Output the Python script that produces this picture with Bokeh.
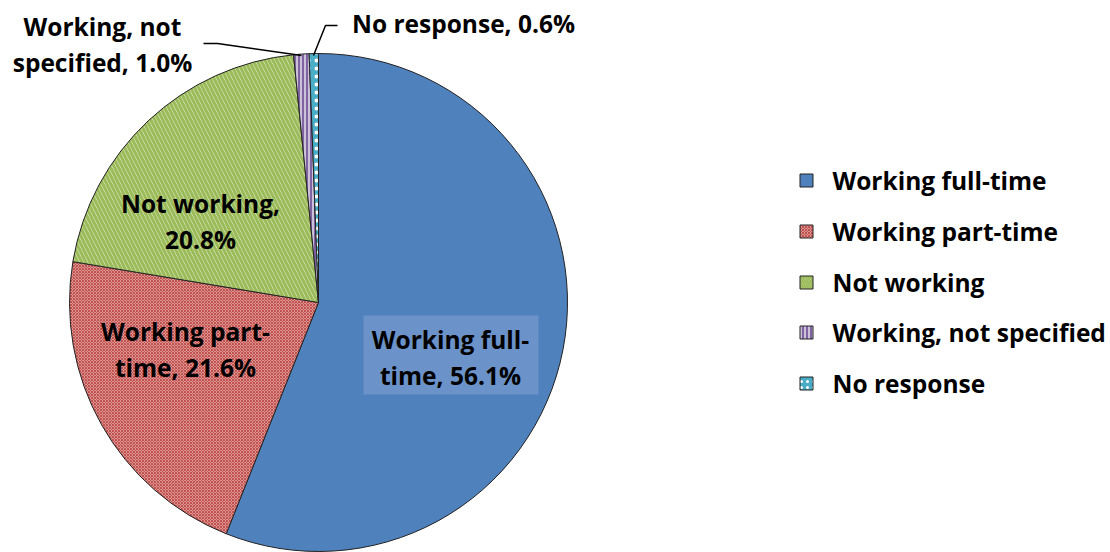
from bokeh.plotting import figure
from bokeh.models import Range1d
from bokeh.embed import file_html
from bokeh.resources import INLINE
from bokeh.core.properties import value
import math

categories = ["Working full-time", "Working part-time", "Not working",
              "Working, not specified", "No response"]
shares = [56.1, 21.6, 20.8, 1.0, 0.6]
slice_labels = ["Working full-\ntime, 56.1%", "Working part-\ntime, 21.6%",
                "Not working,\n20.8%", "Working, not\nspecified, 1.0%",
                "No response, 0.6%"]

fills = ["#4F81BD", "#E9B3B2", "#D7E4BD", "#CCC1DA", "#4BACC6"]
hatch_colors = ["#4F81BD", "#C0504D", "#9BBB59", "#8064A2", "#FFFFFF"]
hatches = [" ", "diagonal_cross", "left_diagonal_line", "vertical_line", "dot"]
hatch_scales = [4, 3, 8, 4, 8]
hatch_weights = [1, 1.2, 3, 2, 2.5]

W, H = 1110, 552
def sx(x): return x
def sy(y): return H - y

p = figure(width=W, height=H, output_backend="svg", toolbar_location=None,
           x_range=Range1d(0, W), y_range=Range1d(0, H), min_border=0)
p.axis.visible = False
p.grid.visible = False
p.outline_line_color = None
p.background_fill_color = "white"

total = sum(shares)
cx, cy, r = sx(318), sy(302), 249
cum = 0.0
starts, ends = [], []
for v in shares:
    starts.append(math.pi / 2 - 2 * math.pi * cum / total)
    cum += v
    ends.append(math.pi / 2 - 2 * math.pi * cum / total)

for i in range(len(shares)):
    p.wedge(x=cx, y=cy, radius=r, start_angle=ends[i], end_angle=starts[i],
            fill_color=fills[i], hatch_pattern=hatches[i], hatch_color=hatch_colors[i],
            hatch_scale=hatch_scales[i], hatch_weight=hatch_weights[i],
            line_color="#222222", line_width=1)

font = value("Open Sans")
FS = "24.5px"
# full-time label box
p.quad(left=sx(363), right=sx(538), top=sy(315), bottom=sy(394),
       fill_color="#6B93C9", line_color=None)
pos = [(450, 357), (185, 349), (200, 221), (102, 44)]
for i, (x, y) in enumerate(pos):
    p.text(x=[sx(x)], y=[sy(y)], text=[slice_labels[i]], text_font=font,
           text_font_style="bold", text_font_size=FS, text_align="center",
           text_baseline="middle", text_line_height=1.08, text_color="black")
p.text(x=[sx(463)], y=[sy(23)], text=[slice_labels[4]], text_font=font,
       text_font_style="bold", text_font_size=FS, text_align="center",
       text_baseline="middle", text_color="black")

# leader lines
p.line(x=[sx(203), sx(217), sx(301)], y=[sy(43), sy(43), sy(55)],
       line_color="black", line_width=1.5)
p.line(x=[sx(337), sx(325), sx(313)], y=[sy(25), sy(25), sy(55)],
       line_color="black", line_width=1.5)

# legend
ly = [180, 231, 282, 332, 383]
leg_scales = [4, 3, 5, 4, 6]
for i, cat in enumerate(categories):
    p.rect(x=[sx(806)], y=[sy(ly[i])], width=13, height=13,
           fill_color=fills[i], hatch_pattern=hatches[i], hatch_color=hatch_colors[i],
           hatch_scale=leg_scales[i], hatch_weight=min(hatch_weights[i], 2),
           line_color="#222222", line_width=1)
    p.text(x=[sx(832)], y=[sy(ly[i])], text=[cat], text_font=font,
           text_font_style="bold", text_font_size=FS, text_align="left",
           text_baseline="middle", text_color="black")

open("out.html", "w").write(file_html(p, INLINE))
